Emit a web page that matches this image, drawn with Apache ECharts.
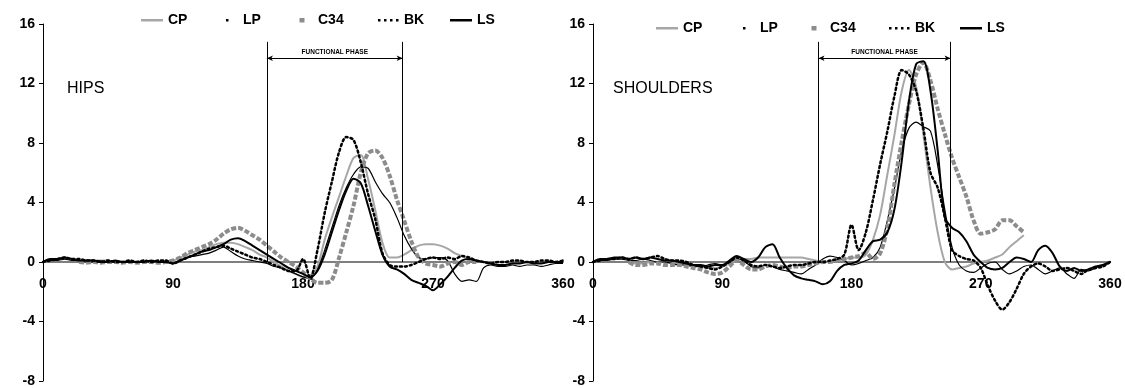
<!DOCTYPE html>
<html>
<head>
<meta charset="utf-8">
<script src="https://cdn.jsdelivr.net/npm/echarts@6/dist/echarts.min.js"></script>
<style>
  html, body { margin: 0; padding: 0; background: #fff; }
  #chart { width: 1125px; height: 388px; }
</style>
</head>
<body>
<div id="chart"></div>
<script>
// crank angle (deg), shared by every curve
const angles = [0,5,10,15,20,25,30,35,40,45,50,55,
  60,65,70,75,80,85,90,95,100,105,110,115,
  120,125,130,135,140,145,150,155,160,165,170,175,
  180,185,190,195,200,205,210,215,220,225,230,235,
  240,245,250,255,260,265,270,275,280,285,290,295,
  300,305,310,315,320,325,330,335,340,345,350,355,
  360]
const xTicks = [0, 90, 180, 270, 360]
const yTicks = [-8, -4, 0, 4, 8, 12, 16]
const seriesNames = ['CP', 'LP', 'C34', 'BK', 'LS']

// hips
const hipsCP = [null,null,null,null,null,0,0.1,0.1,0.1,0.1,0,0,
  0,0,0,0,0,0.05,0.1,0.3,0.5,0.7,0.8,1.0,
  1.2,1.3,1.3,1.2,1.0,0.8,0.5,0.3,0.0,-0.3,-0.6,-0.8,
  -1.0,-0.9,-0.3,1.5,3.0,4.4,5.8,7.0,7.2,5.6,3.5,1.3,
  0.3,0.3,0.5,0.8,1.1,1.2,1.2,1.1,0.9,0.6,0.4,0.2,
  0.0,null,null,null,null,null,null,null,null,null,null,null,
  null]
const hipsLP = [0,0.1,0.1,0.2,0.1,0.1,0,0,0.1,0,0,0,
  0,0,0.1,0,0,0,-0.1,0.1,0.3,0.4,0.5,0.6,
  0.8,1.0,0.7,0.4,0.2,0.1,0.0,-0.1,-0.3,-0.4,-0.6,-0.8,
  -1.0,-1.1,-0.5,0.8,2.3,3.8,5.0,5.9,6.4,6.3,5.4,4.6,
  4.0,3.0,1.8,0.9,0.3,0.2,0.3,0.3,0.1,-0.8,-1.3,-1.2,
  -1.3,-0.4,-0.2,-0.3,-0.3,-0.2,-0.3,-0.2,-0.2,-0.3,-0.2,-0.1,
  -0.1]
const hipsC34 = [null,null,null,null,null,0,-0.05,0,-0.05,0,0,-0.05,
  0,-0.05,0,0,-0.05,0,0.1,0.3,0.6,0.8,1.0,1.2,
  1.5,1.9,2.2,2.3,2.1,1.8,1.5,1.1,0.7,0.3,0.0,-0.3,
  -0.7,-1.1,-1.4,-1.4,-1.2,0.3,2.0,3.8,6.0,7.3,7.5,7.0,
  5.8,4.2,2.8,1.4,0.3,-0.1,-0.2,-0.3,-0.1,0.0,-0.2,0.0,
  0.0,null,null,null,null,null,null,null,null,null,null,null,
  null]
const hipsBK = [0,0.1,0.2,0.3,0.2,0.2,0.1,0.1,0,0.1,0,0,
  0.1,0,0.1,0,0.1,0.1,-0.1,0.1,0.3,0.5,0.7,0.9,
  1.0,1.1,0.9,0.7,0.5,0.3,0.2,0.0,-0.2,-0.4,-0.6,-0.6,
  0.2,-1.1,0.8,3.3,5.4,7.4,8.4,8.2,6.7,4.6,2.9,0.6,
  -0.2,-0.3,-0.3,-0.2,0,0.2,0.3,0.2,0.3,0.2,0.4,0.3,
  0.1,0,-0.1,0,0,0.1,0.1,0,0,0.1,0.1,0,
  0.1]
const hipsLS = [0,0.2,0.2,0.3,0.2,0.1,0.1,0.1,0,0,0.1,0,
  0,0,0,0.1,0,0,-0.1,0.1,0.3,0.5,0.7,0.8,
  1.0,1.2,1.5,1.6,1.4,1.1,0.8,0.5,0.2,-0.1,-0.4,-0.6,
  -0.8,-1.0,-0.6,0.5,2.0,3.5,4.8,5.6,5.3,3.8,2.1,0.5,
  -0.3,-0.5,-0.8,-1.2,-1.4,-1.6,-1.9,-1.5,-1.0,-0.4,0.1,0.2,
  0.1,0,-0.1,-0.2,-0.2,-0.1,-0.1,0,-0.1,-0.1,0,0,
  0]

// shoulders
const shouldersCP = [null,null,null,null,null,0,-0.1,-0.1,0,0,0,-0.1,
  -0.1,-0.2,-0.3,-0.3,-0.4,-0.4,-0.3,-0.1,0.1,0.2,0.2,0.3,
  0.3,0.3,0.3,0.3,0.3,0.3,0.2,0.1,0,0,0.1,0.2,
  0.3,0.3,0.5,1.5,3.2,5.9,8.6,11.5,12.9,11.8,8.6,5.0,
  2.0,0.0,-0.5,-0.4,-0.3,-0.1,0.0,0.1,0.3,0.5,1.0,1.4,
  1.8,null,null,null,null,null,null,null,null,null,null,null,
  null]
const shouldersLP = [0,0.1,0.1,0.2,0.2,0.1,0.1,0.2,0.1,0,0,-0.1,
  -0.2,-0.2,-0.3,-0.3,-0.2,-0.1,-0.2,0,0.2,0.1,-0.3,-0.4,
  -0.2,-0.3,-0.5,-0.6,-0.7,-0.8,-0.5,-0.2,0.2,0.4,0.3,0.1,
  -0.2,-0.1,0.1,0.3,1.0,2.8,5.0,7.5,9.0,9.4,9.1,8.8,
  6.5,3.5,1.0,-0.2,-0.6,-0.7,-0.4,-0.1,0.0,-0.5,-0.8,-0.6,
  -0.3,-0.2,-0.5,-0.8,-0.6,-0.4,-0.8,-1.1,-0.5,-0.6,-0.4,-0.2,
  -0.1]
const shouldersC34 = [null,null,null,null,null,0,-0.2,-0.2,-0.1,-0.1,-0.2,-0.2,
  -0.2,-0.3,-0.4,-0.5,-0.7,-0.8,-0.7,-0.3,0.1,-0.2,-0.5,-0.5,
  -0.3,-0.2,-0.3,-0.4,-0.3,-0.3,-0.2,-0.1,0.0,0.0,0.1,0.2,
  0.3,0.4,0.6,0.2,0.6,2.3,5.3,8.1,10.6,12.6,13.4,12.2,
  10.3,8.6,7.0,5.7,4.4,2.8,1.9,2.0,2.2,2.8,2.8,2.4,
  2.0,null,null,null,null,null,null,null,null,null,null,null,
  null]
const shouldersBK = [0,0.1,0.2,0.2,0.3,0.2,0.3,0.2,0.3,0.4,0.2,0.1,
  0.1,0,-0.2,-0.3,-0.4,-0.5,-0.3,0,0.3,0.1,-0.2,-0.3,
  -0.2,-0.3,-0.4,-0.3,-0.2,-0.2,-0.1,0,0,0.1,0.2,0.5,
  2.5,0.8,2.0,4.2,6.6,8.8,11.2,12.9,12.6,11.5,9.0,6.0,
  5.0,3.0,0.8,0.4,0.2,0.1,-0.4,-1.6,-2.6,-3.2,-2.7,-1.8,
  -0.8,-0.3,-0.1,-0.3,-0.6,-0.5,-0.4,-0.6,-0.8,-0.5,-0.4,-0.3,
  0]
const shouldersLS = [0,0.2,0.2,0.3,0.3,0.2,0.3,0.2,0.3,0.2,0.1,0.1,
  0,-0.1,-0.2,-0.2,-0.3,-0.2,-0.2,0.1,0.4,0.2,0,0.3,
  1.0,1.2,0.3,-0.4,-0.9,-1.1,-1.2,-1.3,-1.5,-1.3,-0.6,-0.2,
  -0.1,0.1,0.8,1.4,1.5,2.0,3.6,6.8,10.8,13.3,13.5,11.5,
  7.5,3.0,2.3,2.0,1.4,0.5,0.0,-0.4,-0.5,-0.4,0.0,0.3,
  0.2,0.0,0.8,1.1,0.6,-0.3,-0.6,-0.4,-0.6,-0.5,-0.3,-0.2,
  0]

// functional phase limits (deg)
const hipsPhase = [155, 249]
const shouldersPhase = [157, 249]

const font = 'Liberation Sans'

// per-series look, in legend order
const styles = {
  CP: { color: '#a6a6a6', width: 2, type: 'solid' },
  LP: { color: '#000', width: 1.2, type: 'solid' },
  C34: { color: '#8c8c8c', width: 4, type: [5, 2] },
  BK: { color: '#000', width: 2.5, type: [2, 3] },
  LS: { color: '#000', width: 2, type: 'solid' }
}

// legend icons, each drawn inside a 22x12 box
const box = 'M0,0L0,0M22,12L22,12'
const icons = {
  CP: 'path://' + box + 'M0,5h22v2.5h-22z',
  LP: 'path://' + box + 'M10,5h2.5v2.5h-2.5z',
  C34: 'path://' + box + 'M8.5,4h5v4.5h-5z',
  BK: 'path://' + box + 'M1,5h2.5v2.5h-2.5zM7,5h2.5v2.5h-2.5zM13,5h2.5v2.5h-2.5zM19,5h2.5v2.5h-2.5z',
  LS: 'path://' + box + 'M0,5h22v2.5h-22z'
}

// where each legend entry starts, per chart
const hipsLegendLeft = [141, 216, 291, 377, 450]
const shouldersLegendLeft = [656, 733, 803, 888, 960]

const toPoints = (values) => {
  const pts = []
  angles.forEach((a, i) => {
    if (values[i] !== null) pts.push([a, values[i]])
  })
  return pts
}

const makeSeries = (name, values, idx) => ({
  name: name,
  type: 'line',
  xAxisIndex: idx,
  yAxisIndex: idx,
  data: toPoints(values),
  showSymbol: false,
  smooth: 0.3,
  color: styles[name].color,
  lineStyle: {
    color: styles[name].color,
    width: styles[name].width,
    type: styles[name].type,
    cap: name === 'BK' ? 'round' : 'butt'
  },
  silent: true,
  animation: false
})

const phaseMarks = (phase) => ({
  silent: true,
  symbol: ['none', 'none'],
  lineStyle: { color: '#000', width: 1, type: 'solid' },
  label: { show: false },
  data: [
    [{ coord: [phase[0], 0] }, { coord: [phase[0], 14.8] }],
    [{ coord: [phase[1], 0] }, { coord: [phase[1], 14.8] }],
    [
      { coord: [phase[0], 13.7], symbol: 'arrow', symbolSize: [4, 6] },
      {
        coord: [phase[1], 13.7], symbol: 'arrow', symbolSize: [4, 6],
        label: {
          show: true,
          position: 'middle',
          formatter: 'FUNCTIONAL PHASE',
          fontFamily: font,
          fontSize: 6.5,
          fontWeight: 'bold',
          color: '#000',
          distance: 3
        }
      }
    ]
  ]
})

const makeXAxis = (idx) => ({
  type: 'value',
  gridIndex: idx,
  min: 0,
  max: 360,
  interval: 90,
  position: 'bottom',
  // sit on y = 0 (357px tall grid, 8 of 24 units below zero)
  offset: -119,
  axisLine: { onZero: false, lineStyle: { color: '#7f7f7f', width: 2 } },
  axisTick: { show: false },
  splitLine: { show: false },
  axisLabel: {
    color: '#000',
    fontFamily: font,
    fontSize: 14,
    fontWeight: 'bold',
    margin: 15,
    formatter: (v) => (xTicks.includes(v) ? String(v) : '')
  }
})

const makeYAxis = (idx) => ({
  type: 'value',
  gridIndex: idx,
  min: -8,
  max: 16,
  interval: 4,
  axisLine: { show: true, lineStyle: { color: '#000', width: 1 } },
  axisTick: { show: true, length: 4, lineStyle: { color: '#000' } },
  splitLine: { show: false },
  axisLabel: {
    color: '#000',
    fontFamily: font,
    fontSize: 14,
    fontWeight: 'bold',
    margin: 8,
    formatter: (v) => (yTicks.includes(v) ? String(v) : '')
  }
})

const makeLegend = (name, left, top) => ({
  left: left,
  top: top,
  padding: 0,
  itemWidth: 22,
  itemHeight: 12,
  itemGap: 0,
  selectedMode: false,
  itemStyle: { borderWidth: 0 },
  textStyle: {
    color: '#000',
    fontFamily: font,
    fontSize: 14,
    fontWeight: 'bold'
  },
  data: [{ name: name, icon: icons[name] }]
})

const hipsValues = { CP: hipsCP, LP: hipsLP, C34: hipsC34, BK: hipsBK, LS: hipsLS }
const shouldersValues = { CP: shouldersCP, LP: shouldersLP, C34: shouldersC34, BK: shouldersBK, LS: shouldersLS }

const series = []
seriesNames.forEach((n) => series.push(makeSeries(n, hipsValues[n], 0)))
seriesNames.forEach((n) => series.push(makeSeries(n, shouldersValues[n], 1)))
series[4].markLine = phaseMarks(hipsPhase)
series[9].markLine = phaseMarks(shouldersPhase)

const legends = []
seriesNames.forEach((n, i) => legends.push(makeLegend(n, hipsLegendLeft[i], 13)))
seriesNames.forEach((n, i) => legends.push(makeLegend(n, shouldersLegendLeft[i], 21)))

const chart = echarts.init(document.getElementById('chart'))

const option = {
  backgroundColor: '#fff',
  animation: false,
  title: [
    { text: 'HIPS', left: 67, top: 81, padding: 0, textStyle: { fontFamily: font, fontSize: 16, fontWeight: 'normal', color: '#000' } },
    { text: 'SHOULDERS', left: 613, top: 81, padding: 0, textStyle: { fontFamily: font, fontSize: 16, fontWeight: 'normal', color: '#000' } }
  ],
  legend: legends,
  grid: [
    { left: 43, top: 24, width: 520, height: 357 },
    { left: 593, top: 24, width: 517, height: 357 }
  ],
  xAxis: [makeXAxis(0), makeXAxis(1)],
  yAxis: [makeYAxis(0), makeYAxis(1)],
  series: series
}

chart.setOption(option)
</script>
</body>
</html>
